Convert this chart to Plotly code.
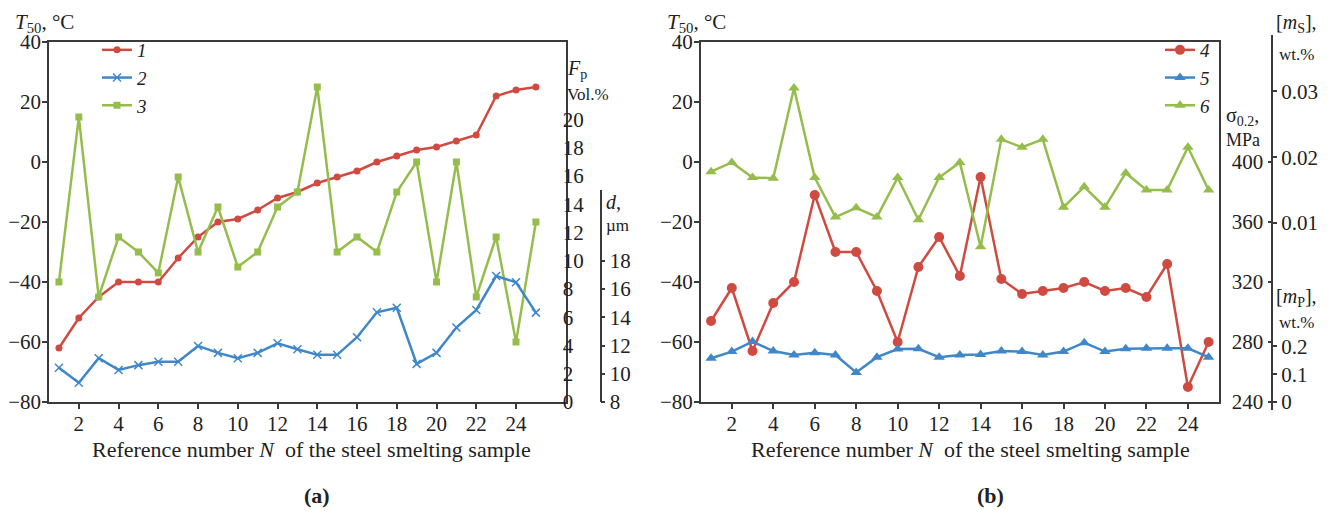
import plotly.graph_objects as go

# ---------------- data ----------------
N = list(range(1, 26))

# panel (a)
t50_1 = [-62, -52, -45, -40, -40, -40, -32, -25, -20, -19, -16, -12, -10, -7, -5,
         -3, 0, 2, 4, 5, 7, 9, 22, 24, 25]                      # T50, degC
d_2 = [10.42, 9.36, 11.10, 10.27, 10.61, 10.85, 10.85, 11.97, 11.48, 11.10, 11.48,
       12.16, 11.74, 11.34, 11.34, 12.59, 14.35, 14.67, 10.70, 11.48, 13.27, 14.52,
       16.92, 16.48, 14.33]                                     # d, um
fp_3 = [8.50, 20.18, 7.44, 11.69, 10.62, 9.14, 15.93, 10.62, 13.81, 9.56, 10.62,
        13.81, 14.87, 22.31, 10.62, 11.69, 10.62, 14.87, 17.00, 8.50, 17.00, 7.44,
        11.69, 4.25, 12.75]                                     # Fp, vol.%

# panel (b)
sigma_4 = [294, 316, 274, 306, 320, 378, 340, 340, 314, 280, 330, 350, 324, 390,
           322, 312, 314, 316, 320, 314, 316, 310, 332, 250, 280]  # sigma0.2, MPa
mp_5 = [0.157, 0.181, 0.217, 0.183, 0.169, 0.177, 0.169, 0.106, 0.161, 0.190, 0.191,
        0.161, 0.169, 0.171, 0.183, 0.181, 0.169, 0.181, 0.213, 0.181, 0.191, 0.193,
        0.193, 0.193, 0.161]                                    # [mP], wt.%
ms_6 = [0.0178, 0.0192, 0.0169, 0.0168, 0.0305, 0.0169, 0.0109, 0.0123, 0.0109,
        0.0169, 0.0105, 0.0169, 0.0192, 0.0064, 0.0227, 0.0215, 0.0227, 0.0124,
        0.0155, 0.0124, 0.0176, 0.0150, 0.0150, 0.0215, 0.0150]  # [mS], wt.%

x_ticks = list(range(2, 25, 2))
t_ticks = [-80, -60, -40, -20, 0, 20, 40]
fp_ticks = list(range(0, 21, 2))
d_ticks = list(range(8, 19, 2))
sigma_ticks = [240, 280, 320, 360, 400]
ms_ticks = [0.01, 0.02, 0.03]
mp_ticks = [0, 0.1, 0.2]

# ---------------- style ----------------
W, H = 1341, 516
OFF = 8  # default page margin of the html body
FONT = "Liberation Serif"
RED = "#cf4b41"
BLUE = "#3f87c8"
GREEN = "#95bd4c"
AX = "#3a3a3a"
TXT = "#222"


def px(x):
    return (x - OFF) / W


def py(y):
    return 1 - (y - OFF) / H


ydom = [py(402), py(42)]
xdom_a = [px(49), px(565.7)]
xdom_b = [px(700.7), px(1219)]

fig = go.Figure()

fig.add_trace(go.Scatter(x=N, y=t50_1, name="<i>1</i>", xaxis="x", yaxis="y",
                         mode="lines+markers", line=dict(color=RED, width=2.5),
                         marker=dict(symbol="circle", size=7, color=RED),
                         legend="legend"))
fig.add_trace(go.Scatter(x=N, y=d_2, name="<i>2</i>", xaxis="x", yaxis="y3",
                         mode="lines+markers", line=dict(color=BLUE, width=2.5),
                         marker=dict(symbol="x-thin", size=8, color=BLUE,
                                     line=dict(color=BLUE, width=1.5)),
                         legend="legend"))
fig.add_trace(go.Scatter(x=N, y=fp_3, name="<i>3</i>", xaxis="x", yaxis="y2",
                         mode="lines+markers", line=dict(color=GREEN, width=2.5),
                         marker=dict(symbol="square", size=7, color=GREEN),
                         legend="legend"))

# empty trace so that the T50 axis of panel (b) gets its own subplot
fig.add_trace(go.Scatter(x=[], y=[], xaxis="x2", yaxis="y4", showlegend=False,
                         hoverinfo="skip"))
fig.add_trace(go.Scatter(x=N, y=sigma_4, name="<i>4</i>", xaxis="x2", yaxis="y5",
                         mode="lines+markers", line=dict(color=RED, width=2.5),
                         marker=dict(symbol="circle", size=10, color=RED),
                         legend="legend2"))
fig.add_trace(go.Scatter(x=N, y=mp_5, name="<i>5</i>", xaxis="x2", yaxis="y7",
                         mode="lines+markers", line=dict(color=BLUE, width=2.5),
                         marker=dict(symbol="triangle-up", size=10, color=BLUE),
                         legend="legend2"))
fig.add_trace(go.Scatter(x=N, y=ms_6, name="<i>6</i>", xaxis="x2", yaxis="y6",
                         mode="lines+markers", line=dict(color=GREEN, width=2.5),
                         marker=dict(symbol="triangle-up", size=10, color=GREEN),
                         legend="legend2"))

tickfont = dict(family=FONT, size=21, color=TXT)

common_x = dict(showline=True, linecolor=AX, linewidth=1.5, mirror=True,
                ticks="outside", ticklen=5, tickwidth=1.5, tickcolor=AX,
                tickvals=x_ticks, tickfont=tickfont, showgrid=False,
                zeroline=False, automargin=False, ticklabelstandoff=-3)
common_y = dict(showline=True, linecolor=AX, linewidth=1.5, mirror=True,
                ticks="outside", ticklen=5, tickwidth=1.5, tickcolor=AX,
                tickvals=t_ticks, range=[-80, 40], tickfont=tickfont,
                showgrid=False, zeroline=False, domain=ydom, automargin=False,
                ticklabelstandoff=-3)
plain = dict(showgrid=False, zeroline=False, automargin=False, tickfont=tickfont)

fig.update_layout(
    width=W, height=H,
    margin=dict(l=0, r=0, t=0, b=0, autoexpand=False),
    paper_bgcolor="white", plot_bgcolor="rgba(0,0,0,0)",
    font=dict(family=FONT, size=21, color=TXT),
    xaxis=dict(domain=xdom_a, range=[0.5, 26.5], anchor="y", **common_x),
    xaxis2=dict(domain=xdom_b, range=[0.5, 25.5], anchor="y4", **common_x),
    yaxis=dict(anchor="x", **common_y),
    yaxis4=dict(anchor="x2", **common_y),
    # Fp axis (labels on the right edge of panel a)
    yaxis2=dict(domain=ydom, side="right", anchor="x", range=[0, 360 / 14.12],
                tickvals=fp_ticks, ticks="", showline=False,
                ticklabelstandoff=-4, **plain),
    # d axis (short free axis right of panel a)
    yaxis3=dict(domain=[py(402), py(190)], range=[8, 8 + 212 / 14.12],
                anchor="free", position=px(600.7), side="right",
                tickvals=d_ticks, showline=True, linecolor=AX, linewidth=1.5,
                ticks="outside", ticklen=4, tickwidth=1.5, tickcolor=AX, **plain),
    # sigma axis (labels to the left of the shared line)
    yaxis5=dict(domain=ydom, side="left", anchor="free", position=px(1272.3),
                range=[240, 480], tickvals=sigma_ticks, showline=True,
                linecolor=AX, linewidth=1.5, ticks="outside", ticklen=4,
                tickwidth=1.5, tickcolor=AX, **plain),
    # [mS] axis (labels right of the shared line, upper part)
    yaxis6=dict(domain=[py(402), py(35)],
                range=[0.01 - 179 / 6585, 0.01 + 188 / 6585], tickvals=ms_ticks,
                side="right", anchor="free", position=px(1272.3),
                tickformat=".2f", showline=True, linecolor=AX, linewidth=1.5,
                ticks="outside", ticklen=4, tickwidth=1.5, tickcolor=AX, **plain),
    # [mP] axis (labels right of the shared line, lower part)
    yaxis7=dict(domain=[py(410), py(250)],
                range=[-8 / 278.5, 152 / 278.5], tickvals=mp_ticks,
                ticktext=["0", "0.1", "0.2"], side="right", anchor="free",
                position=px(1272.3), showline=True, linecolor=AX, linewidth=1.5,
                ticks="outside", ticklen=4, tickwidth=1.5, tickcolor=AX, **plain),
    legend=dict(x=px(97), y=py(31), xanchor="left", yanchor="top",
                bgcolor="rgba(0,0,0,0)", font=dict(family=FONT, size=19),
                itemwidth=30, tracegroupgap=0),
    legend2=dict(x=px(1215), y=py(31), xanchor="right", yanchor="top",
                 bgcolor="rgba(0,0,0,0)", font=dict(family=FONT, size=19),
                 itemwidth=30, tracegroupgap=0),
    showlegend=True,
)


def ann(text, x, y, size=19, xanchor="left", bold=False):
    fig.add_annotation(text=f"<b>{text}</b>" if bold else text, x=px(x), y=py(y),
                       xref="paper", yref="paper", xanchor=xanchor,
                       yanchor="middle", showarrow=False,
                       font=dict(family=FONT, size=size, color=TXT))


ann("<i>T</i><sub>50</sub>, °C", 13, 23, size=21)
ann("<i>T</i><sub>50</sub>, °C", 665, 23, size=21)
ann("<i>F</i><sub>p</sub>", 565, 70, size=20)
ann("Vol.%", 565, 95, size=17)
ann("<i>d</i>,", 604, 202, size=20)
ann("µm", 604, 225, size=17)
ann("σ<sub>0.2</sub>,", 1224, 116, size=20)
ann("MPa", 1224, 140, size=18)
ann("[<i>m</i><sub>S</sub>],", 1274, 23, size=20)
ann("wt.%", 1277, 55, size=17)
ann("[<i>m</i><sub>P</sub>],", 1274, 297, size=20)
ann("wt.%", 1277, 322, size=17)
ann("Reference number <i>N</i>\u00a0\u00a0of the steel smelting sample", 311, 449,
    size=22, xanchor="center")
ann("Reference number <i>N</i>\u00a0\u00a0of the steel smelting sample", 970, 449,
    size=22, xanchor="center")
ann("(a)", 317, 495, size=22, xanchor="center", bold=True)
ann("(b)", 990, 495, size=22, xanchor="center", bold=True)

fig.write_html("out.html")
